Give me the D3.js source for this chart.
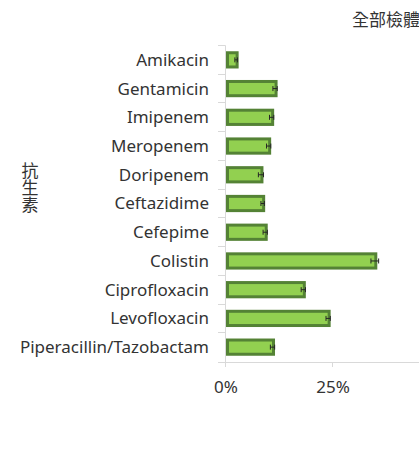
<!DOCTYPE html>
<html>
<head>
<meta charset="utf-8">
<script src="https://cdn.jsdelivr.net/npm/d3@7"></script>
<style>
  body { margin: 0; background: #fff; }
  svg { display: block; font-family: "Noto Sans", "Open Sans", sans-serif; }
</style>
</head>
<body>
<div id="chart"></div>
<script>
// antibiotics, top to bottom
const drugs = [
  "Amikacin", "Gentamicin", "Imipenem", "Meropenem", "Doripenem",
  "Ceftazidime", "Cefepime", "Colistin", "Ciprofloxacin", "Levofloxacin",
  "Piperacillin/Tazobactam"
];
// resistance share (%) and error half-width (%)
const rates = [2.6, 11.7, 10.9, 10.2, 8.4, 8.8, 9.4, 35.0, 18.3, 24.1, 11.1];
const errs = [0.3, 0.5, 0.5, 0.5, 0.6, 0.4, 0.5, 0.9, 0.5, 0.5, 0.5];
const xTicks = [0, 25]; // 50% falls past the right edge
const title = "全部檢體";
const yTitle = "抗生素";

const width = 419, height = 459;
const svg = d3.select("#chart").append("svg")
  .attr("width", width).attr("height", height);

const x = d3.scaleLinear().domain([0, 50]).range([225, 439]);
const y = d3.scaleBand().domain(drugs).range([45.5, 361.5]).paddingInner(0.4).paddingOuter(0.2);

const axisColor = "#d9d9d9";
const textColor = "#333";

// vertical axis with category separators
svg.append("line")
  .attr("x1", x(0) + 0.5).attr("x2", x(0) + 0.5)
  .attr("y1", 45.5).attr("y2", 367)
  .attr("stroke", axisColor);
const seps = drugs.map(d => y(d) - y.step() * y.paddingInner() / 2 - 0.5);
seps.push(361.5);
svg.selectAll("line.sep").data(seps).join("line")
  .attr("class", "sep")
  .attr("x1", x(0) - 7).attr("x2", x(0) + 0.5)
  .attr("y1", d => Math.round(d) + 0.5).attr("y2", d => Math.round(d) + 0.5)
  .attr("stroke", axisColor);

// bottom axis
svg.append("line")
  .attr("x1", x(0)).attr("x2", width)
  .attr("y1", 362.5).attr("y2", 362.5)
  .attr("stroke", axisColor);
svg.selectAll("line.xt").data(xTicks).join("line")
  .attr("class", "xt")
  .attr("x1", d => Math.round(x(d)) + 0.5).attr("x2", d => Math.round(x(d)) + 0.5)
  .attr("y1", 362).attr("y2", 367)
  .attr("stroke", axisColor);
svg.selectAll("text.xl").data(xTicks).join("text")
  .attr("class", "xl")
  .attr("x", d => x(d) + 1).attr("y", 393)
  .attr("text-anchor", "middle")
  .attr("font-size", 17).attr("fill", textColor)
  .text(d => d + "%");

// bars
const sw = 3;
svg.selectAll("rect.bar").data(drugs).join("rect")
  .attr("class", "bar")
  .attr("x", x(0) + 1 + sw / 2)
  .attr("y", d => y(d) + sw / 2)
  .attr("width", (d, i) => x(rates[i]) - x(0) - sw / 2)
  .attr("height", y.bandwidth() - sw)
  .attr("fill", "#92d050")
  .attr("stroke", "#548235")
  .attr("stroke-width", sw);

// error bars
const eb = svg.append("g").attr("stroke", "#262626").attr("stroke-width", 1);
drugs.forEach((d, i) => {
  const cy = y(d) + y.bandwidth() / 2;
  const x0 = x(rates[i] - errs[i]), x1 = x(rates[i] + errs[i]);
  eb.append("line").attr("x1", x0).attr("x2", x1).attr("y1", cy).attr("y2", cy);
  eb.append("line").attr("x1", x0).attr("x2", x0).attr("y1", cy - 2.5).attr("y2", cy + 2.5);
  eb.append("line").attr("x1", x1).attr("x2", x1).attr("y1", cy - 2.5).attr("y2", cy + 2.5);
});

// category labels
svg.selectAll("text.yl").data(drugs).join("text")
  .attr("class", "yl")
  .attr("x", 209)
  .attr("y", d => y(d) + y.bandwidth() / 2)
  .attr("dy", "0.35em")
  .attr("text-anchor", "end")
  .attr("font-size", 17).attr("fill", textColor)
  .text(d => d);

// axis title, written top to bottom
svg.append("text")
  .attr("x", 30).attr("y", 162)
  .style("writing-mode", "vertical-rl")
  .attr("font-family", "Noto Sans CJK TC")
  .attr("font-size", 17).attr("fill", textColor)
  .text(yTitle);

// chart title (cut by the right edge)
svg.append("text")
  .attr("x", 352).attr("y", 26)
  .attr("font-family", "Noto Sans CJK TC")
  .attr("font-size", 17).attr("fill", textColor)
  .text(title);
</script>
</body>
</html>
